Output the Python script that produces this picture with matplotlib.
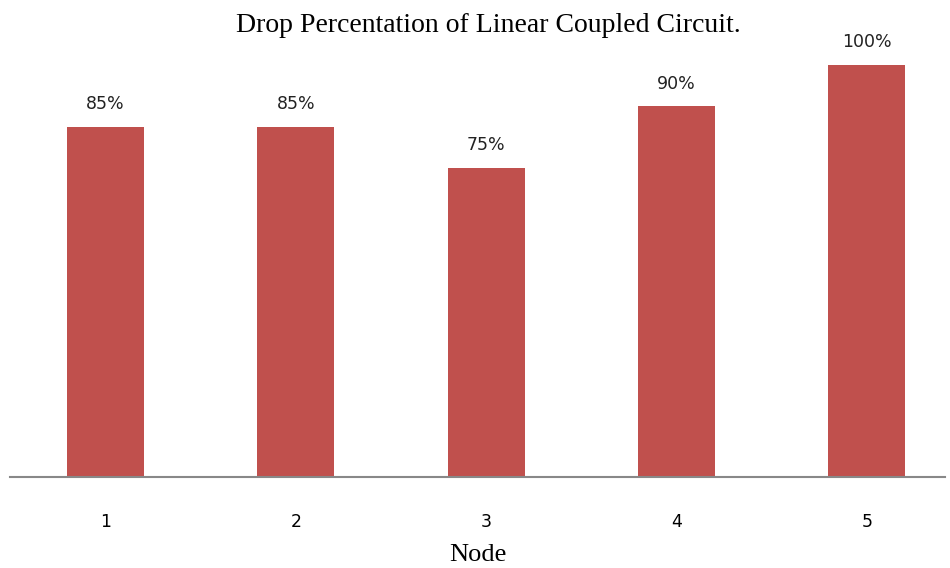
import matplotlib
matplotlib.use("Agg")
import matplotlib.pyplot as plt

nodes = ["1", "2", "3", "4", "5"]
drop_pct = [85, 85, 75, 90, 100]

fig = plt.figure(figsize=(9.5, 5.68), dpi=100)
ax = fig.add_axes([10 / 950, 91 / 568, 935 / 950, 457 / 568])

x = range(len(nodes))
bars = ax.bar(x, drop_pct, width=0.404, color="#C0504D")

for b, v in zip(bars, drop_pct):
    ax.text(b.get_x() + b.get_width() / 2, v + 3.3, f"{v}%",
            ha="center", va="bottom", fontsize=12.5, color="#222222")

ax.set_xlim(-0.5016, 4.41)
ax.set_ylim(0, 110.9)
ax.set_xticks(list(x))
ax.set_xticklabels(nodes, fontsize=12.5)
ax.tick_params(axis="x", length=0, pad=26)
ax.set_yticks([])
for s in ["top", "right", "left"]:
    ax.spines[s].set_visible(False)
ax.spines["bottom"].set_color("#888888")
ax.spines["bottom"].set_linewidth(1.5)

ax.set_xlabel("Node", fontsize=19, family="Liberation Serif", labelpad=9)
fig.text(488 / 950, 1 - 26 / 568, "Drop Percentation of Linear Coupled Circuit.",
         ha="center", va="center", fontsize=20, family="Liberation Serif")

fig.savefig("out.png", dpi=100, facecolor="white")
